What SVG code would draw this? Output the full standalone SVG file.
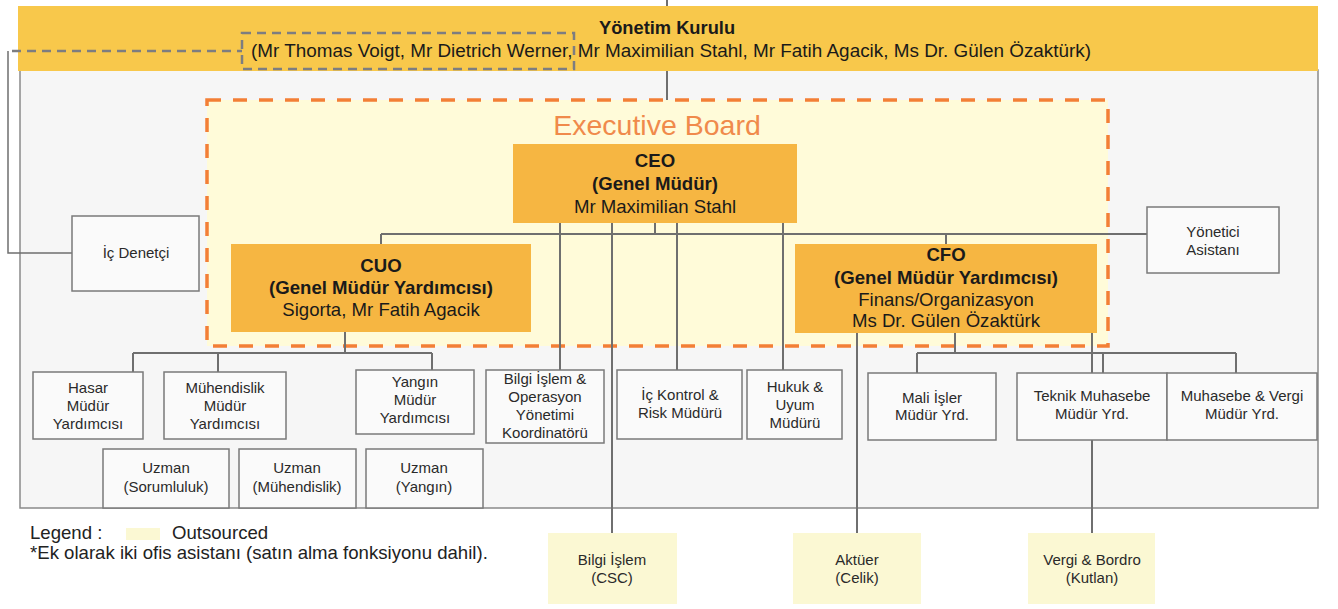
<svg xmlns="http://www.w3.org/2000/svg" width="1338" height="609" viewBox="0 0 1338 609">
<defs>
<style>
text{font-family:"Liberation Sans",Arial,sans-serif;fill:#1a1a1a;text-anchor:middle}
.b{font-weight:bold}
.big{font-size:18.6px}
.sm{font-size:15px;fill:#2a2a2a}
.xs{font-size:15px;fill:#2a2a2a}
.leg{font-size:18.6px;text-anchor:start;fill:#222}
.box{fill:#fafafa;stroke:#7a7a7a;stroke-width:1.5}
.exec{fill:#f6b642}
.out{fill:#fbf8d3}
.con{fill:none;stroke:#6f6f6f;stroke-width:2}
</style>
</defs>
<rect width="1338" height="609" fill="#ffffff"/>
<rect id="frame" x="20" y="70" width="1298" height="438" fill="#f6f6f6" stroke="#8a8a8a" stroke-width="1.5"/>
<g id="yonetim-kurulu">
<rect x="18" y="6" width="1300" height="65" fill="#f8c84b"/>
<rect x="242" y="33" width="332" height="36" fill="none" stroke="#7d7d80" stroke-width="2.5" stroke-dasharray="9,6"/>
<text class="b" x="667" y="34" style="font-size:18.3px">Yönetim Kurulu</text>
<text x="671" y="57" style="font-size:18.9px">(Mr Thomas Voigt, Mr Dietrich Werner, Mr Maximilian Stahl, Mr Fatih Agacik, Ms Dr. Gülen Özaktürk)</text>
</g>
<g id="executive-board">
<rect x="207" y="100" width="901" height="246" fill="#fffbd9" stroke="#f37f36" stroke-width="3.5" stroke-dasharray="14,12"/>
<text x="657" y="135" style="font-size:28.5px;fill:#f08a4b">Executive Board</text>
</g>
<g id="connectors" class="con">
<path d="M667 0V6M667 71V100"/>
<path d="M12 51H242" stroke-dasharray="9,6" stroke="#7d7d80" stroke-width="2.5"/>
<path d="M8 51V253H72" stroke-width="1.5"/>
<path d="M655 223V234M381 234H1147M381 234V244M946 234V244"/>
<path d="M560 223V370M612 223V533M677 223V370M783 223V370"/>
<path d="M345 332V353M133 353H432M133 353V372M218 353V372M432 353V370"/>
<path d="M955 333V353M917 353H1236M917 353V373M1103 353V373M1236 353V373"/>
<path d="M1092 333V533M857 333V533"/>
</g>
<g id="ceo">
<rect class="exec" x="513" y="144" width="284" height="79"/>
<text class="b big" x="655" y="167">CEO</text>
<text class="b big" x="655" y="190">(Genel Müdür)</text>
<text class="big" x="655" y="213">Mr Maximilian Stahl</text>
</g>
<g id="cuo">
<rect class="exec" x="231" y="244" width="300" height="88"/>
<text class="b big" x="381" y="272">CUO</text>
<text class="b big" x="381" y="294">(Genel Müdür Yardımcısı)</text>
<text class="big" x="381" y="316">Sigorta, Mr Fatih Agacik</text>
</g>
<g id="cfo">
<rect class="exec" x="795" y="244" width="302" height="89"/>
<text class="b big" x="946" y="261">CFO</text>
<text class="b big" x="946" y="284">(Genel Müdür Yardımcısı)</text>
<text class="big" x="946" y="306">Finans/Organizasyon</text>
<text class="big" x="946" y="327">Ms Dr. Gülen Özaktürk</text>
</g>
<g id="ic-denetci">
<rect class="box" x="72" y="216" width="127" height="75"/>
<text class="sm" x="136" y="258">İç Denetçi</text>
</g>
<g id="yonetici-asistani">
<rect class="box" x="1147" y="207" width="132" height="66"/>
<text class="sm" x="1213" y="237">Yönetici</text>
<text class="sm" x="1213" y="255">Asistanı</text>
</g>
<g id="hasar">
<rect class="box" x="33" y="372" width="110" height="67"/>
<text class="sm" x="88" y="393">Hasar</text>
<text class="sm" x="88" y="411">Müdür</text>
<text class="sm" x="88" y="429">Yardımcısı</text>
</g>
<g id="muhendislik">
<rect class="box" x="164" y="372" width="122" height="67"/>
<text class="sm" x="225" y="393">Mühendislik</text>
<text class="sm" x="225" y="411">Müdür</text>
<text class="sm" x="225" y="429">Yardımcısı</text>
</g>
<g id="yangin">
<rect class="box" x="356" y="370" width="118" height="64"/>
<text class="sm" x="415" y="387">Yangın</text>
<text class="sm" x="415" y="405">Müdür</text>
<text class="sm" x="415" y="423">Yardımcısı</text>
</g>
<g id="uzman-sorumluluk">
<rect class="box" x="103" y="449" width="126" height="59"/>
<text class="sm" x="166" y="473">Uzman</text>
<text class="sm" x="166" y="492">(Sorumluluk)</text>
</g>
<g id="uzman-muhendislik">
<rect class="box" x="239" y="449" width="117" height="59"/>
<text class="sm" x="297" y="473">Uzman</text>
<text class="sm" x="297" y="492">(Mühendislik)</text>
</g>
<g id="uzman-yangin">
<rect class="box" x="366" y="449" width="117" height="59"/>
<text class="sm" x="424" y="473">Uzman</text>
<text class="sm" x="424" y="492">(Yangın)</text>
</g>
<g id="bilgi-islem-operasyon">
<rect class="box" x="486" y="370" width="118" height="73"/>
<text class="sm" x="545" y="384">Bilgi İşlem &amp;</text>
<text class="sm" x="545" y="402">Operasyon</text>
<text class="sm" x="545" y="420">Yönetimi</text>
<text class="sm" x="545" y="438">Koordinatörü</text>
</g>
<g id="ic-kontrol">
<rect class="box" x="617" y="370" width="125" height="69"/>
<text class="sm" x="680" y="400">İç Kontrol &amp;</text>
<text class="sm" x="680" y="418">Risk Müdürü</text>
</g>
<g id="hukuk-uyum">
<rect class="box" x="747" y="370" width="95" height="69"/>
<text class="sm" x="795" y="392">Hukuk &amp;</text>
<text class="sm" x="795" y="410">Uyum</text>
<text class="sm" x="795" y="428">Müdürü</text>
</g>
<g id="mali-isler">
<rect class="box" x="868" y="373" width="128" height="67"/>
<text class="sm" x="932" y="403">Mali İşler</text>
<text class="sm" x="932" y="420">Müdür Yrd.</text>
</g>
<g id="teknik-muhasebe">
<rect class="box" x="1017" y="373" width="150" height="67"/>
<text class="sm" x="1092" y="401">Teknik Muhasebe</text>
<text class="sm" x="1092" y="419">Müdür Yrd.</text>
</g>
<g id="muhasebe-vergi">
<rect class="box" x="1167" y="373" width="150" height="67"/>
<text class="sm" x="1242" y="401">Muhasebe &amp; Vergi</text>
<text class="sm" x="1242" y="419">Müdür Yrd.</text>
</g>
<g id="bilgi-islem-csc">
<rect class="out" x="548" y="533" width="129" height="71"/>
<text class="xs" x="612" y="565">Bilgi İşlem</text>
<text class="xs" x="612" y="583">(CSC)</text>
</g>
<g id="aktuer">
<rect class="out" x="793" y="533" width="128" height="71"/>
<text class="xs" x="857" y="565">Aktüer</text>
<text class="xs" x="857" y="583">(Celik)</text>
</g>
<g id="vergi-bordro">
<rect class="out" x="1028" y="533" width="127" height="71"/>
<text class="xs" x="1092" y="565">Vergi &amp; Bordro</text>
<text class="xs" x="1092" y="583">(Kutlan)</text>
</g>
<g id="legend">
<text class="leg" x="30" y="539">Legend :</text>
<rect class="out" x="126" y="528" width="34" height="12" fill="#fbf4bf"/>
<text class="leg" x="172" y="539">Outsourced</text>
<text class="leg" x="30" y="559">*Ek olarak iki ofis asistanı (satın alma fonksiyonu dahil).</text>
</g>
</svg>
